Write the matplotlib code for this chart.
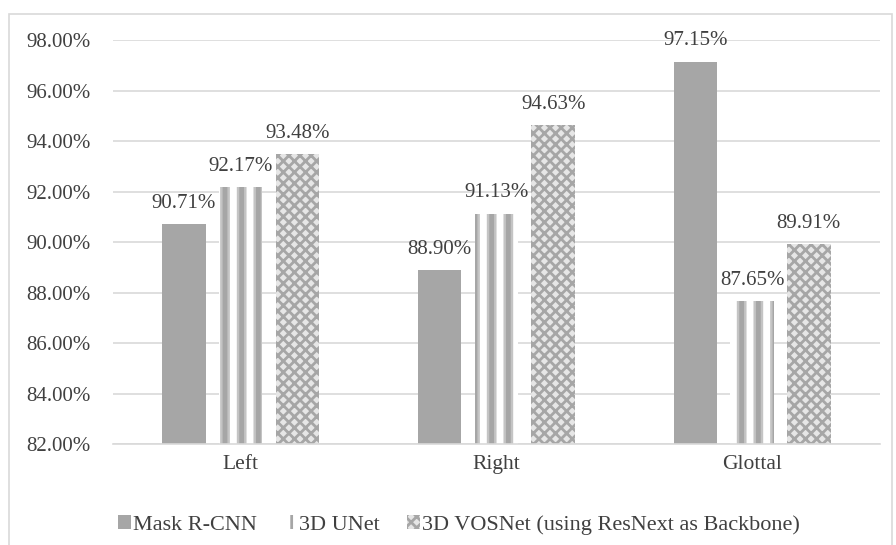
import numpy as np
import matplotlib.pyplot as plt
import matplotlib
from matplotlib.patches import Rectangle
from matplotlib.legend_handler import HandlerTuple

matplotlib.rcParams['font.family'] = ['Liberation Serif', 'DejaVu Serif']

# data
categories = ['Left', 'Right', 'Glottal']
series_names = ['Mask R-CNN', '3D UNet', '3D VOSNet (using ResNext as Backbone)']
mask_rcnn = [90.71, 88.90, 97.15]
unet_3d = [92.17, 91.13, 87.65]
vosnet_3d = [93.48, 94.63, 89.91]

fig = plt.figure(figsize=(8.96, 5.45), dpi=100)
ax = fig.add_axes([0.126, 0.185, 0.856, 0.7415])

# figure border
fig.patches.append(Rectangle((0.010, -0.01), 0.986, 0.985, transform=fig.transFigure,
                             fill=False, edgecolor='#D9D9D9', linewidth=1.2))

x = np.arange(len(categories))
w = 0.17
step = 0.222

b1 = ax.bar(x - step, mask_rcnn, w, color='#A6A6A6', label=series_names[0], zorder=2)

# striped bars: wide light stripes with a darker core
matplotlib.rcParams['hatch.linewidth'] = 7.0
b2a = ax.bar(x, unet_3d, w, facecolor='white', edgecolor='#C4C4C4', hatch='|',
             linewidth=0, zorder=2)
matplotlib.rcParams['hatch.linewidth'] = 3.5
b2b = ax.bar(x, unet_3d, w, facecolor='none', edgecolor='#A6A6A6', hatch='|',
             linewidth=0, zorder=2)

matplotlib.rcParams['hatch.linewidth'] = 2.0
b3 = ax.bar(x + step, vosnet_3d, w, facecolor='#E6E6E6', edgecolor='#A6A6A6', hatch='xxx',
            linewidth=0, zorder=2)

for bars in (b1, b2b, b3):
    ax.bar_label(bars, labels=['%.2f%%' % v for v in bars.datavalues],
                 padding=8, fontsize=15, color='#404040')

yticks = np.arange(82, 99, 2)
ax.set_ylim(82, 98)
ax.set_xlim(-0.5, 2.5)
ax.set_yticks(yticks)
ax.set_yticklabels(['%.2f%%' % t for t in yticks])
ax.set_xticks(x)
ax.set_xticklabels(categories)
ax.tick_params(axis='both', length=0, labelcolor='#404040')
ax.tick_params(axis='y', pad=16, labelsize=15)
ax.tick_params(axis='x', pad=8, labelsize=15.5)

ax.grid(axis='y', color='#D9D9D9', linewidth=1.2, zorder=0)
ax.set_axisbelow(True)
for s in ['top', 'right', 'left']:
    ax.spines[s].set_visible(False)
ax.spines['bottom'].set_color('#D9D9D9')
ax.spines['bottom'].set_linewidth(1.2)

fig.legend([b1, (b2a, b2b), b3], series_names, loc='center', ncol=3, frameon=False,
           fontsize=16, bbox_to_anchor=(0.512, 0.037), handlelength=0.6, handleheight=0.6,
           handletextpad=0.1, columnspacing=1.2, labelcolor='#404040',
           handler_map={tuple: HandlerTuple(ndivide=None, pad=0)})

fig.savefig('out.png', dpi=100)
